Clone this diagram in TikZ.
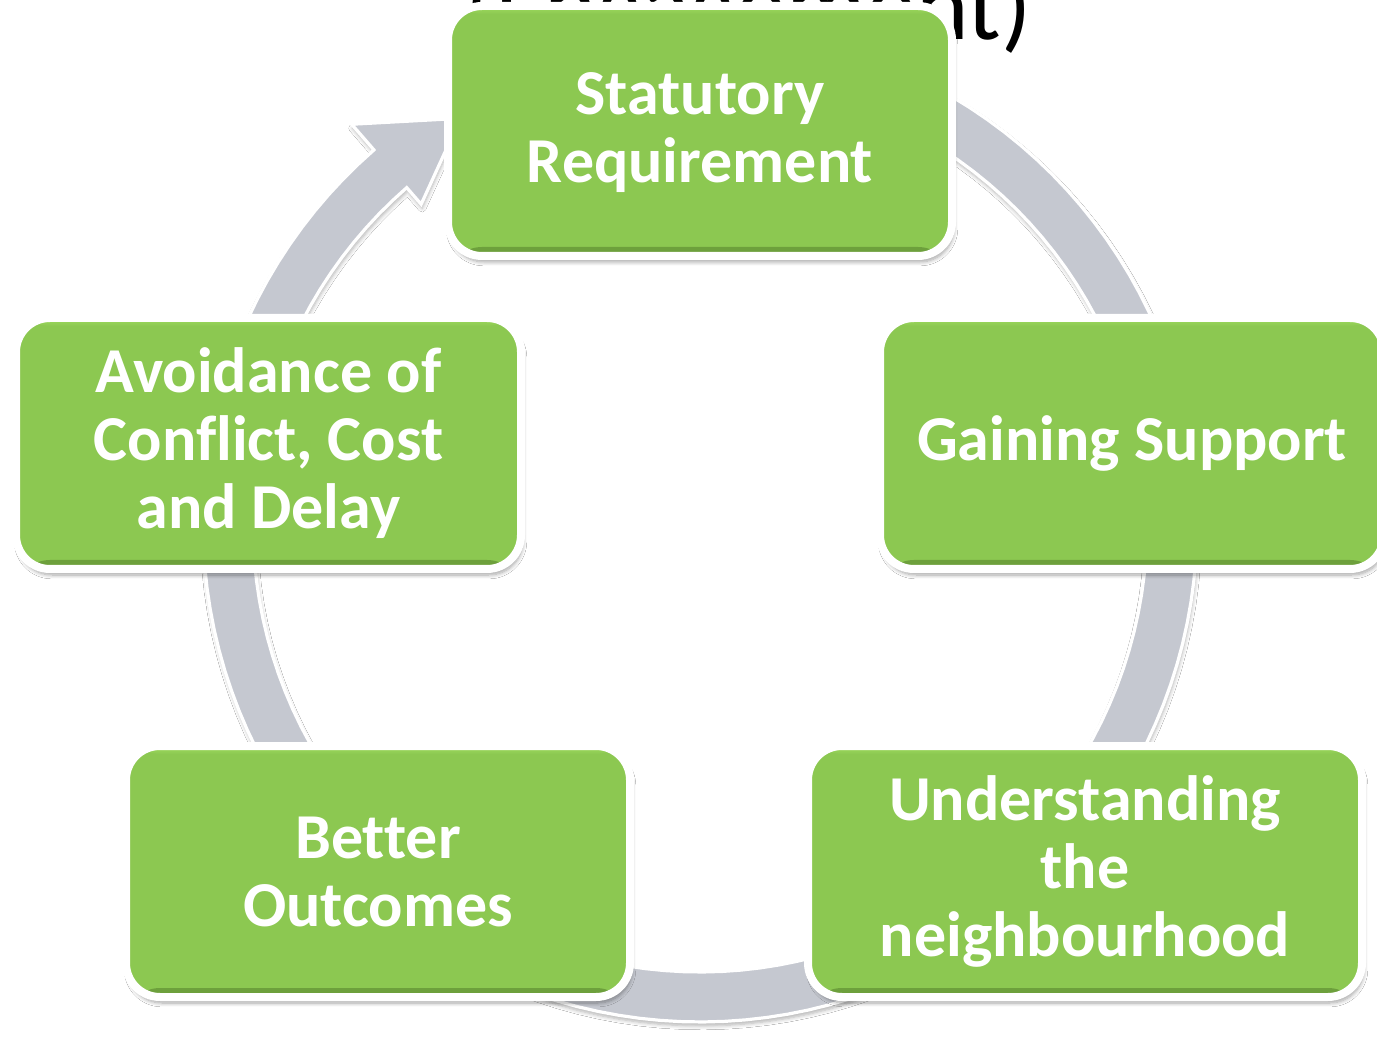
\documentclass[tikz,border=0pt]{standalone}
\usepackage{fontspec}
\setmainfont{Carlito}[Ligatures=NoCommon]
\usetikzlibrary{shadows.blur}
\definecolor{boxgreen}{HTML}{8CC851}
\definecolor{boxlight}{HTML}{9FDC5F}
\definecolor{boxdark}{HTML}{6C9F3B}
\definecolor{ringgray}{HTML}{C5C8D0}
\tikzset{
  gbox/.style={rectangle, rounded corners=17pt, fill=boxgreen, draw=white, line width=4pt,
    inner sep=0pt, text=white, font=\bfseries\fontsize{32}{34}\selectfont, align=center,
    blur shadow={shadow xshift=1pt, shadow yshift=-3pt, shadow blur steps=8, shadow opacity=35},
    path picture={
      \shade[top color=boxgreen, bottom color=boxdark]
        ([yshift=4.5pt]path picture bounding box.south west) rectangle (path picture bounding box.south east);
      \shade[top color=boxlight, bottom color=boxgreen]
        (path picture bounding box.north west) rectangle ([yshift=-4pt]path picture bounding box.north east);
    }},
  ring/.style={fill=ringgray, draw=white, line width=1.6pt, line join=miter,
    blur shadow={shadow xshift=0.5pt, shadow yshift=-2pt, shadow blur steps=6, shadow opacity=30}},
  titletext/.style={anchor=base west, inner sep=0pt, font=\fontsize{50}{60}\selectfont, text=black}
}
\begin{document}
\begin{tikzpicture}[x=0.5pt,y=-0.5pt]
\useasboundingbox (0,0) rectangle (1377,1037);
\clip (0,0) rectangle (1377,1037);
\fill[white] (0,0) rectangle (1377,1037);

\node[titletext] (title) at (465,40) {(Engagement)};

\coordinate (C) at (700,525);
% cycle ring with arrowhead
\path[ring]
  plot[domain=-62:229, samples=120] ({700+497*cos(\x)},{525+497*sin(\x)})
  -- ({700+531*cos(229)},{525+531*sin(229)})
  -- ({700+472*cos(239.5)},{525+472*sin(239.5)})
  -- ({700+425*cos(229)},{525+425*sin(229)})
  -- plot[domain=229:-62, samples=120] ({700+447*cos(\x)},{525+447*sin(\x)})
  -- cycle;

\node[gbox, minimum width=252pt, minimum height=125pt] (S) at (700,131) {\raisebox{-2pt}[\height][\depth]{\begin{tabular}{@{}c@{}}Statutory\\Requirement\end{tabular}}};
\node[gbox, minimum width=252pt, minimum height=125.5pt] (G) at (1132,443.5) {Gaining Support};
\node[gbox, minimum width=277pt, minimum height=125.5pt] (U) at (1085,871.5) {Understanding\\the\\neighbourhood};
\node[gbox, minimum width=252pt, minimum height=125.5pt] (B) at (378,871.5) {Better\\Outcomes};
\node[gbox, minimum width=252.5pt, minimum height=125.5pt] (A) at (268.5,443.5) {Avoidance of\\Conflict, Cost\\and Delay};
\end{tikzpicture}
\end{document}
